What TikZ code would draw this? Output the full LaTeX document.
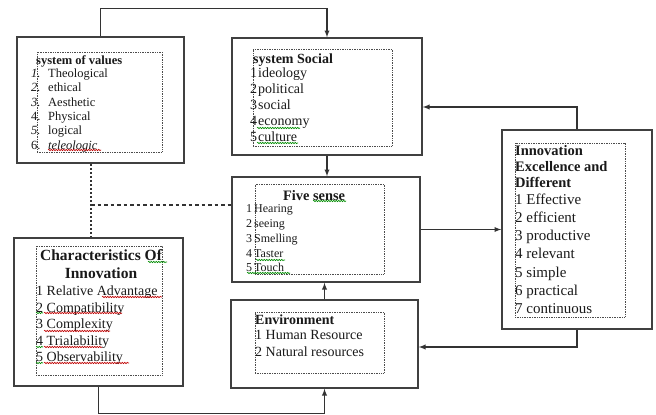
\documentclass[tikz,border=0pt]{standalone}
\usepackage{fontspec}
\setmainfont{Liberation Serif}
\usetikzlibrary{calc, positioning, decorations.pathmorphing}

\newcommand{\so}[1]{\makebox[8pt][l]{#1}}

\begin{document}
\begin{tikzpicture}[>=latex, x=1pt, y=-1pt,
    hop/.style={draw=black!75, line width=1.6pt},
    khung/.style={draw=black!70, densely dotted, line width=0.7pt},
    noi/.style={draw=black!80, line width=1.3pt},
    chu/.style={anchor=north west, align=left, inner sep=0pt, text=black!90},
    gachdo/.style={draw=red!75!black, line width=0.6pt, decorate,
        decoration={snake, amplitude=0.7pt, segment length=2.5pt}},
    gachxanh/.style={gachdo, draw=green!55!black}]
    \useasboundingbox (0,0) rectangle (656,415);

    % Các hộp ngoài
    \node[hop, minimum width=167, minimum height=126] (giatri) at (100.5,100) {};
    \node[hop, minimum width=190, minimum height=117] (xahoi) at (327,96.5) {};
    \node[hop, minimum width=188, minimum height=105] (giacquan) at (326,229.5) {};
    \node[hop, minimum width=187, minimum height=88] (moitruong) at (324.5,344) {};
    \node[hop, minimum width=169, minimum height=148] (dactinh) at (98.5,312) {};
    \node[hop, minimum width=150, minimum height=199] (doimoi) at (577,229.5) {};

    % Khung chấm bên trong
    \node[khung, minimum width=125, minimum height=100] (kgiatri) at (99.5,102) {};
    \node[khung, minimum width=139, minimum height=97] (kxahoi) at (322.5,97.5) {};
    \node[khung, minimum width=129, minimum height=90] (kgiacquan) at (319.5,229) {};
    \node[khung, minimum width=129, minimum height=61] (kmoitruong) at (319.5,342.5) {};
    \node[khung, minimum width=126, minimum height=129] (kdactinh) at (99,310.5) {};
    \node[khung, minimum width=110, minimum height=174] (kdoimoi) at (570,230) {};

    % Hệ giá trị
    \node[chu, font=\bfseries\fontsize{12.5}{14}\selectfont] (tgiatri) at (36,55.5) {system of values};
    \node[chu, font=\fontsize{12.5}{14.4}\selectfont] (dsgiatri) at (31,68.5)
        {\makebox[17pt][l]{\textit{1.}}Theological\\
         \makebox[17pt][l]{\textit{2.}}ethical\\
         \makebox[17pt][l]{\textit{3.}}Aesthetic\\
         \makebox[17pt][l]{4.}Physical\\
         \makebox[17pt][l]{\textit{5.}}logical\\
         \makebox[17pt][l]{6.}\textit{teleologic}};

    % Hệ xã hội
    \node[chu, font=\bfseries\fontsize{14}{16}\selectfont] (txahoi) at (253,54) {system Social};
    \node[chu, font=\fontsize{14}{16}\selectfont] (dsxahoi) at (250,68)
        {\so{1}ideology\\ \so{2}political\\ \so{3}social\\ \so{4}economy\\ \so{5}culture};

    % Năm giác quan
    \node[anchor=north, inner sep=0pt, text=black!90, font=\bfseries\fontsize{14.4}{16}\selectfont] (tgiacquan) at (314,190) {Five sense};
    \node[chu, font=\fontsize{12}{14.8}\selectfont] (dsgiacquan) at (246,204.5)
        {\so{1}Hearing\\ \so{2}seeing\\ \so{3}Smelling\\ \so{4}Taster\\ \so{5}Touch};

    % Môi trường
    \node[chu, font=\bfseries\fontsize{14}{16}\selectfont] (tmoitruong) at (255,315) {Environment};
    \node[chu, font=\fontsize{14}{17}\selectfont] (dsmoitruong) at (255,330)
        {1 Human Resource\\ 2 Natural resources};

    % Đặc tính đổi mới
    \node[anchor=north, align=center, inner sep=0pt, text=black!90, font=\bfseries\fontsize{15.5}{18}\selectfont] (tdactinh) at (101,249)
        {Characteristics Of\\ Innovation};
    \node[chu, font=\fontsize{14}{16.5}\selectfont] (dsdactinh) at (36,286)
        {1 Relative Advantage\\ 2 Compatibility\\ 3 Complexity\\ 4 Trialability\\ 5 Observability};

    % Đổi mới xuất sắc
    \node[chu, font=\bfseries\fontsize{14.5}{16}\selectfont] (tdoimoi) at (515,145.5)
        {Innovation\\ Excellence and\\ Different};
    \node[chu, font=\fontsize{15}{18.2}\selectfont] (dsdoimoi) at (515,193.5)
        {1 Effective\\ 2 efficient\\ 3 productive\\ 4 relevant\\ 5 simple\\ 6 practical\\ 7 continuous};

    % Gạch sóng chính tả
    \draw[gachdo] (48,150) -- (101,150);
    \draw[gachxanh] (257,128) -- (300,128);
    \draw[gachxanh] (257,143) -- (298,143);
    \draw[gachxanh] (313,201) -- (346,201);
    \draw[gachxanh] (256,260) -- (285,260);
    \draw[gachxanh] (247,273) -- (290,273);
    \draw[gachxanh] (148,262) -- (167,262);
    \draw[gachdo] (102,297) -- (162,297);
    \draw[gachdo] (44,313) -- (122,313);
    \draw[gachdo] (44,331) -- (110,331);
    \draw[gachdo] (44,347) -- (102,347);
    \draw[gachdo] (44,363) -- (129,363);
    \foreach \y in {313,347,363}
        \draw[gachxanh] (36,\y) -- (43,\y);

    % Mũi tên nối
    \draw[->, noi] (giatri.north) -- ++(0,-28) -| (xahoi.north);
    \draw[->, noi] (doimoi.north) |- ([yshift=-10.5pt]xahoi.east);
    \draw[->, noi] (xahoi.south) -- (xahoi.south |- giacquan.north);
    \draw[->, noi] (giacquan.east) -- (giacquan.east -| doimoi.west);
    \draw[->, noi] (doimoi.south) |- ([yshift=-3pt]moitruong.east);
    \draw[->, noi] (moitruong.north) -- (moitruong.north |- giacquan.south);
    \draw[->, noi] (dactinh.south) -- ++(0,27) -| (moitruong.south);

    % Đường nét đứt
    \coordinate (re) at (91,205);
    \draw[noi, dash pattern=on 2.5pt off 1.5pt] (giatri.south -| re) -- (re |- dactinh.north);
    \draw[noi, dash pattern=on 3.5pt off 3pt] (re) -- (re -| giacquan.west);
\end{tikzpicture}
\end{document}
